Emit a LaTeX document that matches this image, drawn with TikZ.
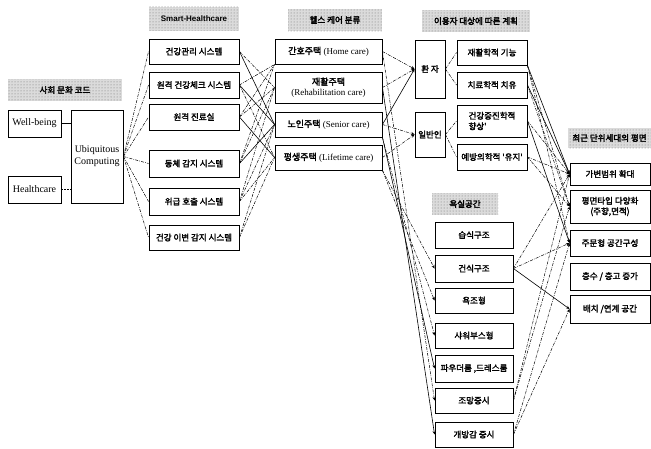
\documentclass[tikz,border=0pt]{standalone}
\usepackage{fontspec}
\setmainfont{Liberation Serif}
\setsansfont{Liberation Sans}
\newfontfamily\kr{Noto Sans CJK KR}[FakeBold=2.2]
\newfontfamily\krhead{Noto Sans CJK KR}[FakeBold=3]
\usetikzlibrary{arrows.meta,patterns}

\begin{document}
\begin{tikzpicture}[x=1pt,y=-1pt,
  box/.style={draw, line width=0.9pt, fill=white, align=center, inner sep=1pt,
    font=\fontsize{9}{10.5}\selectfont},
  kbox/.style={box, font=\kr\fontsize{8.5}{10.5}\selectfont},
  hdr/.style={preaction={fill=black!14}, pattern=dots, pattern color=black!55,
    inner sep=1pt, font=\krhead\fontsize{8.5}{10}\selectfont},
  link/.style={line width=0.5pt, dash pattern=on 3pt off 1.2pt on 0.7pt off 1.2pt},
  plain/.style={line width=0.6pt},
  tip/.style={-{Stealth[length=3.5pt,width=3pt]}},
  thickline/.style={line width=1.6pt}]
\useasboundingbox (0,0) rectangle (651,448);

% column headers
\node[hdr, minimum width=114pt, minimum height=22pt] (hA) at (65,90) {사회 문화 코드};
\node[hdr, minimum width=90pt, minimum height=24pt, font=\sffamily\bfseries\fontsize{8}{9}\selectfont] (hB) at (194,18.5) {Smart-Healthcare};
\node[hdr, minimum width=94pt, minimum height=22pt] (hC) at (335,20) {헬스 케어 분류};
\node[hdr, minimum width=108pt, minimum height=22pt] (hD) at (476,21) {이용자 대상에 따른 계획};
\node[hdr, minimum width=83pt, minimum height=20pt] (hE) at (609.5,138) {최근 단위세대의 평면};
\node[hdr, minimum width=66pt, minimum height=22pt] (hF) at (465,204) {욕실공간};

% social code
\node[box, minimum width=53pt, minimum height=27pt, font=\fontsize{10}{12}\selectfont] (wb) at (34.5,123.5) {Well-being};
\node[box, minimum width=53pt, minimum height=27pt, font=\fontsize{10}{12}\selectfont] (hc) at (34.5,189.5) {Healthcare};
\node[box, minimum width=52pt, minimum height=93pt, font=\fontsize{10}{12}\selectfont] (uc) at (97,156.5) {Ubiquitous\\Computing};

% smart healthcare systems
\node[kbox, minimum width=90pt, minimum height=25pt] (s1) at (194,51.5) {건강관리 시스템};
\node[kbox, minimum width=90pt, minimum height=26pt] (s2) at (194,85) {원격 건강체크 시스템};
\node[kbox, minimum width=90pt, minimum height=26pt] (s3) at (194,117) {원격 진료실};
\node[kbox, minimum width=90pt, minimum height=27pt] (s4) at (194,163.5) {동체 감지 시스템};
\node[kbox, minimum width=90pt, minimum height=27pt] (s5) at (194,201.5) {위급 호출 시스템};
\node[kbox, minimum width=90pt, minimum height=25pt] (s6) at (194,237.5) {건강 이변 감지 시스템};

% health care types
\node[box, minimum width=107pt, minimum height=25pt] (h1) at (328.5,51.5) {{\kr 간호주택} (Home care)};
\node[box, minimum width=107pt, minimum height=31pt] (h2) at (328.5,87.5) {{\kr 재활주택}\\(Rehabilitation care)};
\node[box, minimum width=107pt, minimum height=25pt] (h3) at (328.5,124.5) {{\kr 노인주택} (Senior care)};
\node[box, minimum width=107pt, minimum height=25pt] (h4) at (328.5,157.5) {{\kr 평생주택} (Lifetime care)};

% users
\node[kbox, minimum width=30pt, minimum height=58pt] (u1) at (430,69) {환 자};
\node[kbox, minimum width=30pt, minimum height=45pt] (u2) at (430,134.5) {일반인};
\node[kbox, minimum width=70pt, minimum height=25pt] (p1) at (492,52.5) {재활학적 기능};
\node[kbox, minimum width=70pt, minimum height=26pt] (p2) at (492,85) {치료학적 치유};
\node[kbox, minimum width=70pt, minimum height=32pt, align=left] (p3) at (492,121) {건강증진학적\\향상'};
\node[kbox, minimum width=70pt, minimum height=26pt] (p4) at (492,157) {예방의학적 '유지'};

% unit plan
\node[kbox, minimum width=80pt, minimum height=22pt] (f1) at (610,174) {가변범위 확대};
\node[kbox, minimum width=80pt, minimum height=33pt] (f2) at (610,206.5) {평면타입 다양화\\(주향,면적)};
\node[kbox, minimum width=80pt, minimum height=26pt] (f3) at (610,243) {주문형 공간구성};
\node[kbox, minimum width=80pt, minimum height=27pt] (f4) at (610,276.5) {층수 / 층고 증가};
\node[kbox, minimum width=80pt, minimum height=28pt] (f5) at (610,309) {배치 /연계 공간};

% bathroom
\node[kbox, minimum width=78pt, minimum height=26pt] (b1) at (474,235) {습식구조};
\node[kbox, minimum width=78pt, minimum height=27pt] (b2) at (474,268.5) {건식구조};
\node[kbox, minimum width=78pt, minimum height=25pt] (b3) at (474,300.5) {욕조형};
\node[kbox, minimum width=78pt, minimum height=25pt] (b4) at (474,335.5) {샤워부스형};
\node[kbox, minimum width=78pt, minimum height=27pt] (b5) at (474,368.5) {파우더룸 ,드레스룸};
\node[kbox, minimum width=78pt, minimum height=25pt] (b6) at (474,400.5) {조망중시};
\node[kbox, minimum width=78pt, minimum height=25pt] (b7) at (474,434.5) {개방감 중시};

% social code -> ubiquitous computing
\draw[thickline] (wb.east) -- (wb.east -| uc.west);
\draw[thickline, dash pattern=on 2pt off 1pt] (hc.east) -- (hc.east -| uc.west);

% ubiquitous computing -> systems
\foreach \s in {s1,s2,s3,s4,s5,s6}
  \draw[link] (uc.east) -- (\s.west);

% systems -> health care types
\draw[link] (s1.east) -- (h2.west);
\draw[plain] (s1.east) -- (h3.west);
\draw[link] (s2.east) -- (h1.south west);
\draw[plain] (s2.east) -- (h3.west);
\draw[link] (s2.east) -- (h4.west);
\draw[link] (s3.east) -- (h1.south west);
\draw[link] (s3.east) -- (h2.west);
\draw[plain] (s3.east) -- (h4.west);
\draw[link] (s4.east) -- (h1.south west);
\draw[link] (s4.east) -- (h2.west);
\draw[plain] (s4.east) -- (h3.west);
\draw[link] (s5.east) -- (h2.west);
\draw[link] (s5.east) -- (h3.west);
\draw[link] (s5.east) -- (h4.west);
\draw[link] (s6.east) -- (h3.west);
\draw[link] (s6.east) -- (h4.west);

% health care types -> users
\draw[link, tip] (h1.east) -- (u1.west);
\draw[link, tip] (h2.east) -- (u1.west);
\draw[plain, tip] (h3.east) -- (u1.west);
\draw[link, tip] (h3.east) -- (u2.west);
\draw[link, tip] (h4.east) -- (u2.west);

% users -> purposes
\draw[link] (u1.east) -- (p1.west);
\draw[link] (u1.east) -- (p2.west);
\draw[link] (u2.east) -- (p3.west);
\draw[link] (u2.east) -- (p4.west);

% health care types -> bathroom
\draw[link, tip] (h1.east) -- (b6.west);
\draw[plain, tip] (h2.east) -- (b7.west);
\draw[link, tip] (h3.south east) -- (b4.west);
\draw[plain, tip] (h3.south east) -- (b5.west);
\draw[link, tip] (h4.south east) -- (b2.west);
\draw[link, tip] (h4.south east) -- (b3.west);

% purposes -> unit plan
\draw[plain, tip] (p1.south east) -- (f1.west);
\draw[link, tip] (p1.south east) -- (f2.west);
\draw[link, tip] (p1.south east) -- (f3.west);
\draw[plain, tip] (p2.east) -- (f1.west);
\draw[link, tip] (p2.east) -- (f2.west);
\draw[link, tip] (p3.east) -- (f1.west);
\draw[plain, tip] (p3.east) -- (f3.west);
\draw[link, tip] (p4.east) -- (f1.west);
\draw[link, tip] (p4.east) -- (f2.west);

% bathroom -> unit plan
\draw[link, tip] (b2.east) -- (f1.west);
\draw[link, tip] (b2.east) -- (f3.west);
\draw[plain, tip] (b2.east) -- (f5.west);
\draw[link, tip] (b6.east) -- (f1.west);
\draw[link, tip] (b6.east) -- (f2.west);
\draw[link, tip] (b7.east) -- (f3.west);
\draw[link, tip] (b7.east) -- (f5.west);
\end{tikzpicture}
\end{document}
